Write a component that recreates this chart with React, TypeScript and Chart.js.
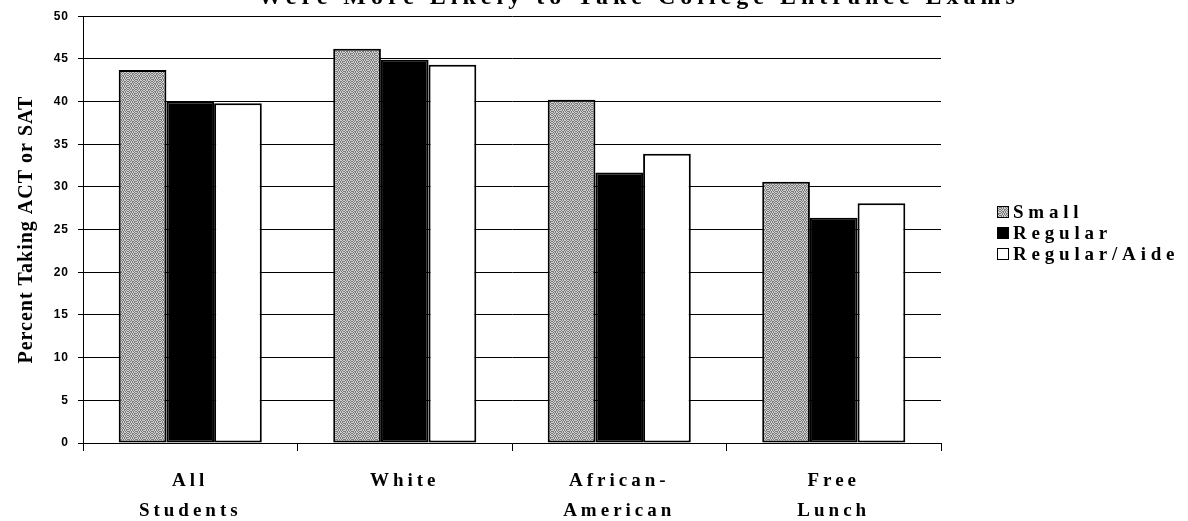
import React, { useEffect, useRef } from 'react';
import { Chart, registerables } from 'chart.js';

Chart.register(...registerables);

// ---------- data ----------
const categories: string[][] = [['All', 'Students'], ['White'], ['African-', 'American'], ['Free', 'Lunch']];
const seriesNames: string[] = ['Small', 'Regular', 'Regular/Aide'];
const smallValues: number[] = [43.7, 46.2, 40.2, 30.6];
const regularValues: number[] = [40.0, 44.9, 31.7, 26.4];
const aideValues: number[] = [39.8, 44.3, 33.9, 28.1];
const yMin = 0;
const yMax = 50;
const yStep = 5;
const titleText = 'Were More Likely to Take College Entrance Exams';
const yAxisTitle = 'Percent Taking ACT or SAT';

// fixed halftone mask for the "Small" fill (1 = light dot, 0 = dark dot)
const ditherMask: number[][] = [
  [1, 0, 1, 0, 1, 1, 0, 1],
  [0, 1, 0, 1, 0, 0, 1, 0],
  [1, 0, 1, 1, 0, 1, 0, 1],
  [0, 1, 0, 0, 1, 0, 1, 0],
  [1, 0, 1, 0, 1, 0, 1, 1],
  [0, 1, 0, 1, 0, 1, 0, 0],
  [1, 1, 0, 1, 0, 1, 0, 1],
  [0, 0, 1, 0, 1, 0, 1, 0],
];

function makeDither(): CanvasPattern | string {
  const c = document.createElement('canvas');
  c.width = 8;
  c.height = 8;
  const g = c.getContext('2d');
  if (!g) return '#aaaaaa';
  for (let y = 0; y < 8; y++) {
    for (let x = 0; x < 8; x++) {
      g.fillStyle = ditherMask[y][x] ? '#d2d2d2' : '#7a7a7a';
      g.fillRect(x, y, 1, 1);
    }
  }
  const p = g.createPattern(c, 'repeat');
  return p || '#aaaaaa';
}

const paperPlugin = {
  id: 'paperStyle',
  beforeDraw(chart: any) {
    chart.ctx.letterSpacing = '1px';
  },
  afterDatasetsDraw(chart: any) {
    chart.ctx.letterSpacing = '4px';
  },
  afterDraw(chart: any) {
    const ctx: CanvasRenderingContext2D = chart.ctx;
    ctx.save();
    ctx.fillStyle = '#000';
    // title (upper part runs off the top of the page)
    ctx.letterSpacing = '5px';
    ctx.font = 'bold 24px "Liberation Serif"';
    ctx.textAlign = 'center';
    ctx.textBaseline = 'alphabetic';
    ctx.fillText(titleText, 639, 4);
    // legend
    ctx.letterSpacing = '4.8px';
    ctx.font = 'bold 19px "Liberation Serif"';
    ctx.textAlign = 'left';
    ctx.textBaseline = 'middle';
    const rows = [212, 233, 254];
    chart.data.datasets.forEach((ds: any, i: number) => {
      const cy = rows[i];
      ctx.fillStyle = ds.backgroundColor;
      ctx.fillRect(997, cy - 6, 12, 12);
      ctx.strokeStyle = '#000';
      ctx.lineWidth = 1;
      ctx.strokeRect(997.5, cy - 5.5, 11, 11);
      ctx.fillStyle = '#000';
      ctx.fillText(ds.label, 1013, cy + 1);
    });
    ctx.restore();
    ctx.letterSpacing = '0px';
  },
};

export default function App() {
  const ref = useRef<HTMLCanvasElement | null>(null);

  useEffect(() => {
    if (!ref.current) return;
    const dither = makeDither();
    const chart = new Chart(ref.current, {
      type: 'bar',
      data: {
        labels: categories,
        datasets: [
          {
            label: seriesNames[0],
            data: smallValues,
            backgroundColor: dither as any,
            borderColor: '#000',
            borderWidth: 2,
            borderSkipped: false,
          },
          {
            label: seriesNames[1],
            data: regularValues,
            backgroundColor: '#000',
            borderColor: '#000',
            borderWidth: 2,
            borderSkipped: false,
          },
          {
            label: seriesNames[2],
            data: aideValues,
            backgroundColor: '#ffffff',
            borderColor: '#000',
            borderWidth: 2,
            borderSkipped: false,
          },
        ],
      },
      options: {
        animation: false,
        responsive: false,
        layout: { padding: { left: 0, right: 247, top: 14, bottom: 0 } },
        datasets: { bar: { categoryPercentage: 0.667, barPercentage: 1.0 } },
        plugins: {
          legend: { display: false },
          title: { display: false },
          tooltip: { enabled: false },
        },
        scales: {
          x: {
            grid: {
              z: 1,
              offset: true,
              drawOnChartArea: false,
              drawTicks: true,
              tickLength: 8,
              color: '#000',
              lineWidth: 1,
            },
            border: { display: true, color: '#000', width: 1, z: 1 },
            ticks: {
              z: 1,
              color: '#000',
              padding: 15,
              maxRotation: 0,
              autoSkip: false,
              font: { family: '"Liberation Serif"', size: 19, weight: 'bold', lineHeight: '30px' },
            },
            afterFit: (s: any) => {
              s.height = 78;
            },
          },
          y: {
            min: yMin,
            max: yMax,
            ticks: {
              stepSize: yStep,
              color: '#000',
              padding: 9,
              font: { family: '"Liberation Sans"', size: 12, weight: 'bold' },
            },
            grid: { color: '#000', lineWidth: 1, tickLength: 5 },
            border: { display: true, color: '#000', width: 1 },
            title: {
              display: true,
              text: yAxisTitle,
              color: '#000',
              font: { family: '"Liberation Serif"', size: 20, weight: 'bold' },
              padding: { top: 15, bottom: 0 },
            },
            afterFit: (s: any) => {
              s.width = 83;
            },
          },
        },
      } as any,
      plugins: [paperPlugin],
    });
    return () => chart.destroy();
  }, []);

  return (
    <div style={{ position: 'absolute', left: 0, top: 0, width: 1188, height: 521, background: '#fff' }}>
      <canvas ref={ref} width={1188} height={521} style={{ display: 'block' }} />
    </div>
  );
}
